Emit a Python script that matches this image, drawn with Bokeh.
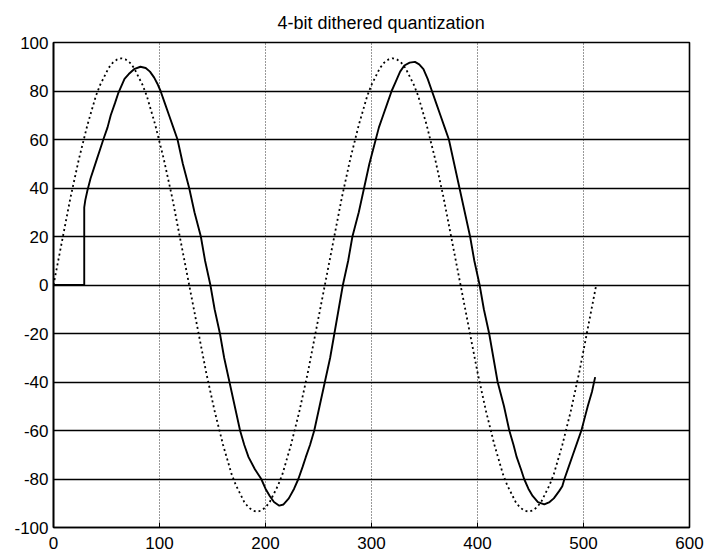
from bokeh.plotting import figure
from bokeh.models import SingleIntervalTicker, Range1d, PrintfTickFormatter
from bokeh.embed import file_html
from bokeh.resources import INLINE

# Reference signal (dotted): samples every 4
dotted_x = [4 * k for k in range(129)]
dotted_y = [0, 9, 18, 27, 36, 44, 52, 59, 66, 72, 78, 82.5, 86, 89.5, 91.7, 93, 93.5,
            93, 91.7, 89.5, 86, 82.5, 78, 72, 66, 59, 52, 44, 36, 27, 18, 9,
            0, -9, -18, -27, -36, -44, -52, -59, -66, -72, -78, -82.5, -86, -89.5, -91.7, -93, -93.5,
            -93, -91.7, -89.5, -86, -82.5, -78, -72, -66, -59, -52, -44, -36, -27, -18, -9,
            0, 9, 18, 27, 36, 44, 52, 59, 66, 72, 78, 82.5, 86, 89.5, 91.7, 93, 93.5,
            93, 91.7, 89.5, 86, 82.5, 78, 72, 66, 59, 52, 44, 36, 27, 18, 9,
            0, -9, -18, -27, -36, -44, -52, -59, -66, -72, -78, -82.5, -86, -89.5, -91.7, -93, -93.5,
            -93, -91.7, -89.5, -86, -82.5, -78, -72, -66, -59, -52, -44, -36, -27, -18, -9,
            0]

# Dithered quantized output (solid)
solid_x = [0, 29, 29, 30, 32, 35, 38, 41, 44, 47, 51, 54, 58, 61, 64, 67, 71, 76,
           82, 87, 91, 95, 98, 101, 105, 109, 113, 117, 122, 128, 133, 139, 143,
           148, 152, 157, 161, 166, 171, 176, 180, 184, 190, 196, 200, 204, 208,
           213, 217, 222, 227, 231, 235, 238, 242, 246, 251, 256, 261, 265, 269,
           273, 278, 282, 288, 293, 298, 304, 307, 311, 315, 319, 323, 327, 331,
           336, 341, 345, 349, 353, 357, 361, 365, 369, 373, 378, 383, 388, 393,
           397, 402, 406, 411, 415, 419, 425, 430, 434, 437, 441, 444, 448, 452,
           457, 463, 468, 472, 477, 480, 482, 486, 490, 494, 498, 501, 504, 508, 511]
solid_y = [0, 0, 32, 35, 39, 44, 48, 52, 56, 60, 65, 70, 75, 79, 82, 85, 87, 89,
           90, 89.5, 88, 85.5, 83, 80, 75, 70, 65, 60, 50, 40, 30, 20, 10,
           0, -10, -20, -30, -40, -50, -60, -66, -71, -76, -80, -84, -87, -89.5,
           -91, -90.5, -88, -84, -80, -75, -71, -66, -60, -50, -40, -30, -20, -10,
           0, 10, 20, 30, 40, 50, 60, 65, 70, 75, 80, 84, 88, 90.5,
           91.7, 92, 91, 89, 85, 80, 75, 70, 65, 60, 50, 40, 30, 20,
           10, 0, -10, -20, -30, -40, -50, -60, -66, -71, -76, -80, -84, -87,
           -89.5, -90.5, -89.5, -88, -85, -83, -80, -75, -70, -65, -60, -55, -50, -44, -38]

x_ticks_interval = 100
y_ticks_interval = 20
title_text = "4-bit dithered quantization"

FONT = "Liberation Sans"

p = figure(width=710, height=558, output_backend="svg", toolbar_location=None,
           x_range=Range1d(0, 600), y_range=Range1d(-100, 100),
           min_border_left=53, min_border_right=21, min_border_top=42,
           min_border_bottom=31, title=title_text)

p.title.align = "left"
p.title.offset = 224
p.title.standoff = 19
p.title.text_font = FONT
p.title.text_font_size = "18px"
p.title.text_font_style = "normal"
p.title.text_color = "black"

p.background_fill_color = "white"
p.border_fill_color = "white"
p.outline_line_color = "black"
p.outline_line_width = 1.6

p.xaxis.ticker = SingleIntervalTicker(interval=x_ticks_interval)
p.yaxis.ticker = SingleIntervalTicker(interval=y_ticks_interval)
p.xaxis.formatter = PrintfTickFormatter(format="%d")
p.yaxis.formatter = PrintfTickFormatter(format="%d")

for ax in (p.xaxis[0], p.yaxis[0]):
    ax.major_tick_in = 5
    ax.major_tick_out = 0
    ax.minor_tick_in = 0
    ax.minor_tick_out = 0
    ax.axis_line_color = "black"
    ax.axis_line_width = 1.6
    ax.major_tick_line_color = "black"
    ax.major_label_text_font = FONT
    ax.major_label_text_font_size = "17px"
    ax.major_label_text_color = "black"

p.yaxis.major_label_standoff = 5
p.xaxis.major_label_standoff = 9

p.xgrid.grid_line_color = "black"
p.xgrid.grid_line_dash = "1 2"
p.xgrid.grid_line_width = 1
p.xgrid.grid_line_alpha = 0.8
p.ygrid.grid_line_color = "black"
p.ygrid.grid_line_width = 1.6

p.line(dotted_x, dotted_y, line_color="black", line_width=1.8, line_dash="2 3")
p.line(solid_x, solid_y, line_color="black", line_width=1.9)

open("out.html", "w").write(file_html(p, INLINE))
